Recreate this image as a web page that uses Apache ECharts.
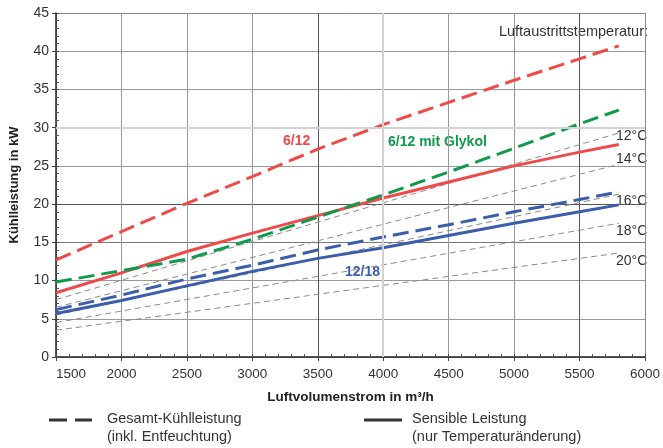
<!DOCTYPE html>
<html><head><meta charset="utf-8">
<script src="https://cdn.jsdelivr.net/npm/echarts@6/dist/echarts.min.js"></script>
<style>html,body{margin:0;padding:0;background:#fff}#c{width:663px;height:448px}</style>
</head><body><div id="c"></div>
<script>
const xValues = [1500, 2000, 2500, 3000, 3500, 4000, 4500, 5000, 5500, 5800];
const gesamt612 = [12.7, 16.4, 20.1, 23.6, 27.2, 30.4, 33.3, 36.2, 39.0, 40.7];
const gesamt612Glykol = [9.8, 11.3, 12.8, 15.4, 18.3, 21.2, 24.2, 27.3, 30.5, 32.3];
const sensibel612 = [8.4, 11.0, 13.8, 16.2, 18.5, 20.8, 22.9, 25.0, 26.8, 27.8];
const gesamt1218 = [6.2, 8.1, 10.2, 12.0, 14.0, 15.7, 17.3, 19.0, 20.6, 21.6];
const sensibel1218 = [5.7, 7.4, 9.3, 11.2, 12.9, 14.3, 15.9, 17.5, 19.0, 19.9];
const tempX = [1500, 5800];
const temp12 = [7.5, 29.3];
const temp14 = [6.5, 25.2];
const temp16 = [5.5, 21.3];
const temp18 = [4.5, 17.5];
const temp20 = [3.5, 13.6];
const tempLabels = ['12°C', '14°C', '16°C', '18°C', '20°C'];

const FONT = 'Liberation Sans, Arial, sans-serif';
const RED = '#ef4a4a', GREEN = '#109a4b', BLUE = '#3a5eab', GRAY = '#8a8a8a';
const zip = (xs, ys) => xs.map((x, i) => [x, ys[i]]);

const chart = echarts.init(document.getElementById('c'));
const lineSeries = (name, data, color, width, dash, z) => ({
  name, type: 'line', data: zip(data.length === 2 ? tempX : xValues, data),
  symbol: 'none', smooth: false, z: z,
  lineStyle: { color, width, type: dash ? dash : 'solid' }
});
const grayDash = [6, 4];
const colDash = [16, 7];

chart.setOption({
  animation: false,
  textStyle: { fontFamily: FONT },
  grid: { left: 54, right: 13, top: 13, bottom: 91 },
  xAxis: [{
    type: 'value', min: 1500, max: 6000, interval: 500,
    name: 'Luftvolumenstrom in m³/h', nameLocation: 'middle', nameGap: 33,
    nameTextStyle: { fontSize: 13.5, fontWeight: 'bold', color: '#222', fontFamily: FONT },
    axisLine: { show: true, lineStyle: { color: '#222', width: 1.5 } },
    axisTick: { show: true, inside: true, length: 3, lineStyle: { color: '#444' } },
    minorTick: { show: true, splitNumber: 5, length: 3, lineStyle: { color: '#555' } },
    axisLabel: { fontSize: 13.5, color: '#333', margin: 10, fontFamily: FONT, alignMinLabel: 'left',
      formatter: v => String(v) },
    splitLine: { show: true, lineStyle: { width: 1, color: ['#999', '#999', '#999', '#999', '#555', '#cfcfcf', '#999', '#999', '#555', '#888'] } }
  }, {
    type: 'value', min: 1500, max: 6000, interval: 500, position: 'bottom',
    axisLine: { show: false }, axisLabel: { show: false }, splitLine: { show: false },
    axisTick: { show: true, inside: false, length: 4, lineStyle: { color: '#444' } }
  }],
  yAxis: [{
    type: 'value', min: 0, max: 45, interval: 5,
    name: 'Kühlleistung in kW', nameLocation: 'middle', nameGap: 35,
    nameTextStyle: { fontSize: 13, fontWeight: 'bold', color: '#222', fontFamily: FONT },
    axisLine: { show: true, lineStyle: { color: '#222', width: 1.5 } },
    axisTick: { show: true, inside: true, length: 3, lineStyle: { color: '#444' } },
    minorTick: { show: true, splitNumber: 5, length: 3, lineStyle: { color: '#555' } },
    axisLabel: { fontSize: 14, color: '#333', margin: 7, fontFamily: FONT },
    splitLine: { show: true, lineStyle: { width: 1, color: ['#999', '#999', '#999', '#777', '#555', '#999', '#cfcfcf', '#999', '#999', '#888'] } }
  }, {
    type: 'value', min: 0, max: 45, interval: 5, position: 'left',
    axisLine: { show: false }, axisLabel: { show: false }, splitLine: { show: false },
    axisTick: { show: true, inside: false, length: 4, lineStyle: { color: '#444' } }
  }],
  series: [
    { type: 'line', data: [], silent: true, z: 1,
      markLine: { silent: true, symbol: 'none', label: { show: false },
        lineStyle: { color: '#d2d2d2', width: 2, type: 'solid' },
        data: [{ xAxis: 4000 }, { yAxis: 30 }] } },
    lineSeries('t12', temp12, GRAY, 1, grayDash, 2),
    lineSeries('t14', temp14, GRAY, 1, grayDash, 2),
    lineSeries('t16', temp16, GRAY, 1, grayDash, 2),
    lineSeries('t18', temp18, GRAY, 1, grayDash, 2),
    lineSeries('t20', temp20, GRAY, 1, grayDash, 2),
    lineSeries('6/12 sensibel', sensibel612, RED, 3, null, 3),
    lineSeries('12/18 sensibel', sensibel1218, BLUE, 3, null, 3),
    lineSeries('12/18 gesamt', gesamt1218, BLUE, 3, colDash, 4),
    lineSeries('6/12 Glykol', gesamt612Glykol, GREEN, 3, colDash, 4),
    lineSeries('6/12 gesamt', gesamt612, RED, 3, colDash, 4)
  ],
  graphic: [
    { type: 'text', right: 15, top: 24, style: { text: 'Luftaustrittstemperatur:', font: '14.5px ' + FONT, fill: '#333' } },
    { type: 'text', left: 616, top: 129, style: { text: tempLabels[0], font: '14px ' + FONT, fill: '#333' } },
    { type: 'text', left: 616, top: 152, style: { text: tempLabels[1], font: '14px ' + FONT, fill: '#333' } },
    { type: 'text', left: 616, top: 194, style: { text: tempLabels[2], font: '14px ' + FONT, fill: '#333' } },
    { type: 'text', left: 616, top: 224, style: { text: tempLabels[3], font: '14px ' + FONT, fill: '#333' } },
    { type: 'text', left: 616, top: 254, style: { text: tempLabels[4], font: '14px ' + FONT, fill: '#333' } },
    { type: 'text', left: 283, top: 134, style: { text: '6/12', font: 'bold 14px ' + FONT, fill: RED } },
    { type: 'text', left: 388, top: 135, style: { text: '6/12 mit Glykol', font: 'bold 14px ' + FONT, fill: GREEN } },
    { type: 'text', left: 345, top: 265, style: { text: '12/18', font: 'bold 14px ' + FONT, fill: BLUE } },
    { type: 'line', shape: { x1: 49, y1: 420, x2: 92, y2: 420 }, style: { stroke: '#333', lineWidth: 3, lineDash: [18, 8] } },
    { type: 'text', left: 107, top: 411, style: { text: 'Gesamt-Kühlleistung', font: '14.5px ' + FONT, fill: '#333' } },
    { type: 'text', left: 107, top: 429, style: { text: '(inkl. Entfeuchtung)', font: '14.5px ' + FONT, fill: '#333' } },
    { type: 'line', shape: { x1: 364, y1: 420, x2: 402, y2: 420 }, style: { stroke: '#333', lineWidth: 3 } },
    { type: 'text', left: 412, top: 411, style: { text: 'Sensible Leistung', font: '14.5px ' + FONT, fill: '#333' } },
    { type: 'text', left: 412, top: 429, style: { text: '(nur Temperaturänderung)', font: '14.5px ' + FONT, fill: '#333' } }
  ]
});
</script>
</body></html>
